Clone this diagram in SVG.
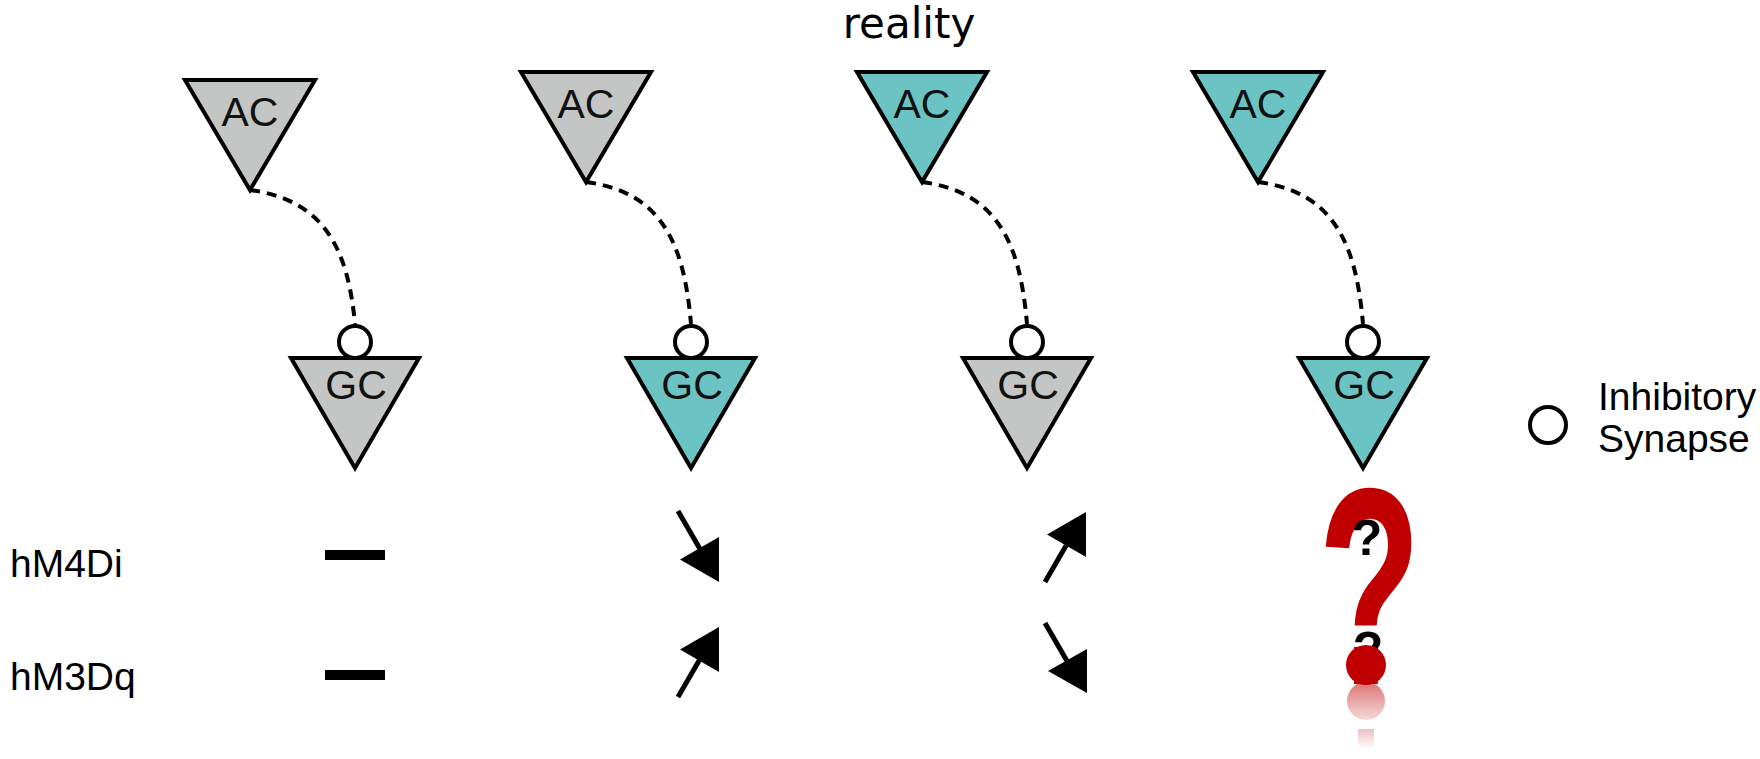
<svg xmlns="http://www.w3.org/2000/svg" width="1760" height="759" viewBox="0 0 1760 759">
  <style>
    .tri { stroke: #000; stroke-width: 4; stroke-linejoin: miter; }
    .gray { fill: #c4c6c5; }
    .teal { fill: #6bc3c3; }
    .lbl { font-family: "Liberation Sans", Arial, sans-serif; font-size: 41px; fill: #111; text-anchor: middle; }
    .side { font-family: "Liberation Sans", Arial, sans-serif; font-size: 39px; fill: #000; }
    .syn { fill: #fff; stroke: #000; stroke-width: 4; }
    .dash { fill: none; stroke: #000; stroke-width: 4; stroke-dasharray: 10 7; }
    .arr { stroke: #000; stroke-width: 5; fill: none; }
    .head { fill: #000; }
    .bar { stroke: #000; stroke-width: 10; }
    .qs { font-family: "Liberation Sans", Arial, sans-serif; font-weight: bold; font-size: 50px; text-anchor: middle; fill: #000; }
  </style>
  <defs>
    <linearGradient id="reflDot" x1="0" y1="0" x2="0" y2="1">
      <stop offset="0" stop-color="#c00000" stop-opacity="0.55"/>
      <stop offset="1" stop-color="#c00000" stop-opacity="0.15"/>
    </linearGradient>
    <linearGradient id="reflStem" x1="0" y1="0" x2="0" y2="1">
      <stop offset="0" stop-color="#c00000" stop-opacity="0.25"/>
      <stop offset="1" stop-color="#c00000" stop-opacity="0"/>
    </linearGradient>
  </defs>

  <text x="909" y="38" font-family="DejaVu Sans, Verdana, sans-serif" font-size="42" text-anchor="middle" fill="#000">reality</text>

  <g id="connectors">
    <path class="dash" d="M250,190 C325,200 348,250 355,324"/>
    <path class="dash" d="M586,182 C661,192 684,242 691,324"/>
    <path class="dash" d="M922,182 C997,192 1020,242 1027,324"/>
    <path class="dash" d="M1258,182 C1333,192 1356,242 1363,324"/>
  </g>

  <g id="ac1"><polygon class="tri gray" points="185,80 315,80 250,190"/><text class="lbl" x="250" y="126">AC</text></g>
  <g id="ac2"><polygon class="tri gray" points="521,72 651,72 586,182"/><text class="lbl" x="586" y="118">AC</text></g>
  <g id="ac3"><polygon class="tri teal" points="857,72 987,72 922,182"/><text class="lbl" x="922" y="118">AC</text></g>
  <g id="ac4"><polygon class="tri teal" points="1193,72 1323,72 1258,182"/><text class="lbl" x="1258" y="118">AC</text></g>

  <g id="gc1"><circle class="syn" cx="355" cy="342" r="16"/><polygon class="tri gray" points="291,358 419,358 355,468"/><text class="lbl" x="356" y="399">GC</text></g>
  <g id="gc2"><circle class="syn" cx="691" cy="342" r="16"/><polygon class="tri teal" points="627,358 755,358 691,468"/><text class="lbl" x="692" y="399">GC</text></g>
  <g id="gc3"><circle class="syn" cx="1027" cy="342" r="16"/><polygon class="tri gray" points="963,358 1091,358 1027,468"/><text class="lbl" x="1028" y="399">GC</text></g>
  <g id="gc4"><circle class="syn" cx="1363" cy="342" r="16"/><polygon class="tri teal" points="1299,358 1427,358 1363,468"/><text class="lbl" x="1364" y="399">GC</text></g>

  <g id="legend">
    <circle class="syn" cx="1548" cy="425" r="18"/>
    <text class="side" x="1598" y="410" font-size="37">Inhibitory</text>
    <text class="side" x="1598" y="452" font-size="37">Synapse</text>
  </g>

  <g id="row-labels">
    <text class="side" x="10" y="577">hM4Di</text>
    <text class="side" x="10" y="690">hM3Dq</text>
  </g>

  <g id="effects">
    <line class="bar" x1="325" y1="555" x2="385" y2="555"/>
    <line class="bar" x1="325" y1="675" x2="385" y2="675"/>

    <line class="arr" x1="678" y1="511" x2="700" y2="549"/>
    <polygon class="head" points="719,537 719,582 680,559.5"/>
    <line class="arr" x1="678" y1="697" x2="700" y2="659"/>
    <polygon class="head" points="719,627 719,672 680,649.5"/>

    <line class="arr" x1="1045" y1="582" x2="1067" y2="544"/>
    <polygon class="head" points="1086,512 1086,557 1047,534.5"/>
    <line class="arr" x1="1045" y1="623" x2="1067" y2="661"/>
    <polygon class="head" points="1087,649 1087,693 1048,671"/>
  </g>

  <g id="question">
    <circle cx="1366" cy="701" r="19" fill="url(#reflDot)"/>
    <rect x="1358" y="729" width="16" height="20" fill="url(#reflStem)"/>
    <text transform="translate(1318,684) scale(0.6,1)" x="0" y="0" font-family="Liberation Sans, Arial, sans-serif" font-weight="bold" font-size="281" fill="#c00000">?</text>
    <text class="qs" x="1367" y="555">?</text>
    <text class="qs" x="1368" y="667">?</text>
    <circle cx="1366" cy="665" r="20" fill="#c00000"/>
  </g>
</svg>
